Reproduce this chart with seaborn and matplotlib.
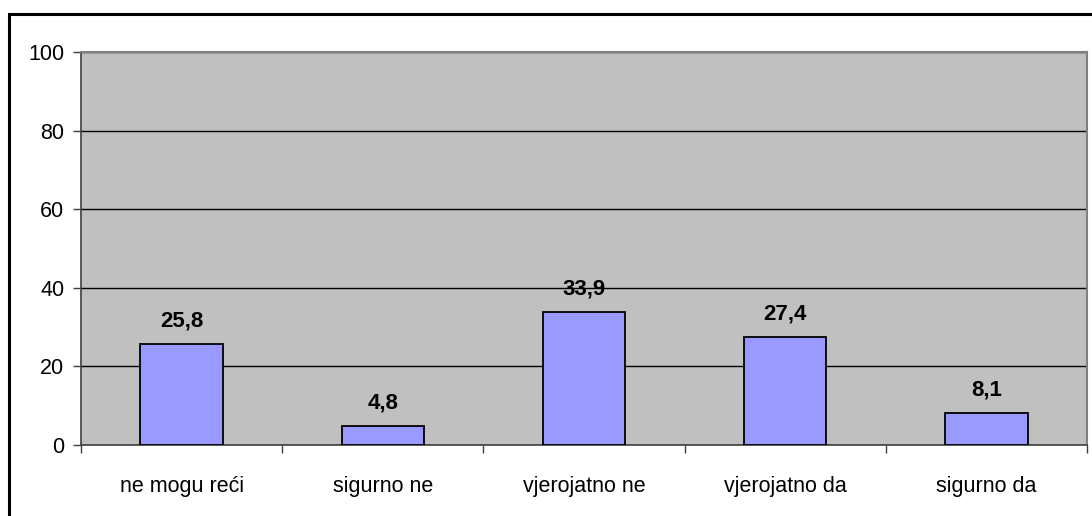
import matplotlib
matplotlib.use("Agg")
import matplotlib.pyplot as plt
import seaborn as sns
import pandas as pd
from matplotlib.patches import Rectangle

categories = ["ne mogu reći", "sigurno ne", "vjerojatno ne", "vjerojatno da", "sigurno da"]
values = [25.8, 4.8, 33.9, 27.4, 8.1]
value_labels = ["25,8", "4,8", "33,9", "27,4", "8,1"]
yticks = [0, 20, 40, 60, 80, 100]

sns.set_theme(style="white")
plt.rcParams['font.family'] = ['Liberation Sans', 'DejaVu Sans']

W, H = 1092, 516
fig = plt.figure(figsize=(W / 100, H / 100), dpi=100)
left, right, top, bottom = 81, 1087, 52, 445
ax = fig.add_axes([left / W, 1 - bottom / H, (right - left) / W, (bottom - top) / H])

df = pd.DataFrame({"cat": categories, "val": values})
sns.barplot(data=df, x="cat", y="val", ax=ax, color="#9999FF", saturation=1,
            width=0.41, edgecolor="black", linewidth=1.3, zorder=3)

ax.set_facecolor("#C0C0C0")
ax.set_xlim(-0.5, len(categories) - 0.5)
ax.set_ylim(0, 100)
ax.set_yticks(yticks)
ax.set_yticklabels([str(t) for t in yticks], fontsize=15.5, color="black")
ax.yaxis.grid(True, color="black", linewidth=1.0, zorder=1)
ax.set_axisbelow(True)

# x ticks: marks at category boundaries, labels at centers
ax.set_xticks([i - 0.5 for i in range(len(categories) + 1)])
ax.set_xticklabels([])
ax.set_xticks(range(len(categories)), minor=True)
ax.set_xticklabels(categories, minor=True, fontsize=15.5, color="black")
ax.tick_params(axis="x", which="major", direction="out", length=6, width=1, color="#404040", bottom=True)
ax.tick_params(axis="x", which="minor", length=0, pad=22, bottom=True)
ax.tick_params(axis="y", direction="out", length=6, width=1, color="#404040", left=True, pad=6)
ax.set_xlabel("")
ax.set_ylabel("")

for s in ["left", "bottom"]:
    ax.spines[s].set_color("#404040")
    ax.spines[s].set_linewidth(1.2)
for s in ["top", "right"]:
    ax.spines[s].set_color("#808080")
    ax.spines[s].set_linewidth(1.5)
    ax.spines[s].set_visible(True)

for i, (v, lab) in enumerate(zip(values, value_labels)):
    ax.annotate(lab, xy=(i, v), xytext=(0, 12.5), textcoords="offset points",
                ha="center", va="baseline", fontsize=16, fontweight="bold", color="black", zorder=5)

# outer chart border
fig.patches.append(Rectangle((8.5 / W, -0.1), 1.2, 1 - 13.5 / H + 0.1, transform=fig.transFigure,
                             fill=False, edgecolor="black", linewidth=2.2))

fig.savefig("out.png", dpi=100, facecolor="white")
